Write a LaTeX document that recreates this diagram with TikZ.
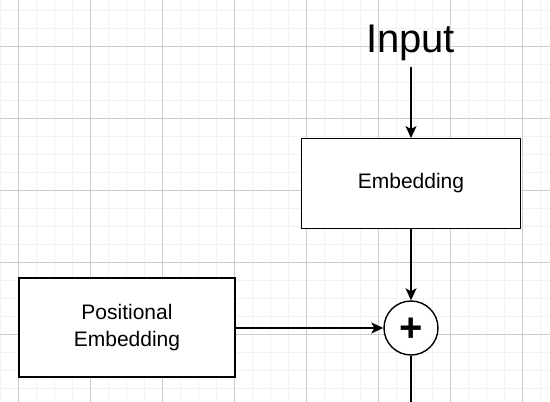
\documentclass[tikz,border=0pt]{standalone}
\usepackage{fontspec}
\setmainfont{Liberation Sans}
\usetikzlibrary{arrows.meta}
\begin{document}
\begin{tikzpicture}[x=1pt,y=-1pt,
  box/.style={draw=black, line width=1.4pt, fill=white, inner sep=0pt, align=center, font=\fontsize{21}{27}\selectfont},
  sumnode/.style={circle, draw=black, line width=1.4pt, fill=white, inner sep=0pt, minimum size=54pt},
  arr/.style={line width=1.5pt, -{Stealth[length=12pt,width=11pt,inset=3pt]}},
  plainline/.style={line width=1.5pt},
  minorgrid/.style={draw=black!5, line width=1.6pt},
  majorgrid/.style={draw=black!20, line width=0.9pt}]
\useasboundingbox (0,0) rectangle (550,402);
\fill[white] (0,0) rectangle (550,402);
\foreach \i in {0,...,30} \draw[minorgrid] (0.3+18*\i,0) -- (0.3+18*\i,402);
\foreach \i in {0,...,22} \draw[minorgrid] (0,10.3+18*\i) -- (550,10.3+18*\i);
\foreach \i in {0,...,7} \draw[majorgrid] (18.3+72*\i,0) -- (18.3+72*\i,402);
\foreach \i in {0,...,4} \draw[majorgrid] (0,46.3+72*\i) -- (550,46.3+72*\i);

\node[anchor=base, inner sep=0pt, font=\fontsize{40}{40}\selectfont] (input) at (410.5,52.7) {Input};
\coordinate (instart) at (411,66.7);
\node[box, minimum width=219pt, minimum height=89.5pt] (emb) at (411,183.5) {\raisebox{-1pt}{Embedding}};
\node[box, minimum width=216pt, minimum height=99pt] (pos) at (127,327.5) {Positional\\Embedding};
\node[sumnode] (sum) at (411,328) {};
\node[inner sep=0pt, font=\fontsize{40}{40}\bfseries] (plus) at (411.3,330.2) {+};
\coordinate (bot) at (411,410);

\draw[arr] (instart) -- (instart |- emb.north);
\draw[arr] (emb.south) -- (sum.north);
\draw[arr] (pos.east |- sum.center) -- (sum.west);
\draw[plainline] (sum.south) -- (bot);
\end{tikzpicture}
\end{document}
